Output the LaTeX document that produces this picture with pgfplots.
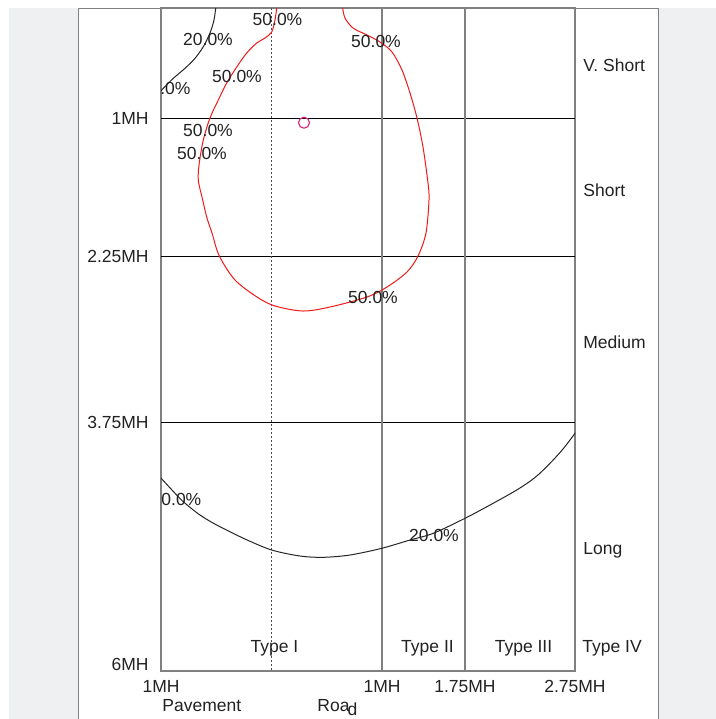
\documentclass[border=0pt]{standalone}
\usepackage{pgfplots}
\pgfplotsset{compat=1.18}
\usepackage{fontspec}
\setmainfont{Liberation Sans}

\definecolor{bggray}{HTML}{EFF0F2}
\definecolor{framegray}{HTML}{808080}
\definecolor{txt}{HTML}{222222}
\definecolor{redline}{HTML}{F01A1A}
\definecolor{dotpink}{HTML}{E0207A}

% one pixel of the reference = 0.5pt
\newcommand{\px}[2]{(#1*0.5pt,-#2*0.5pt)}
\newcommand{\lbl}{\fontsize{8.75pt}{10pt}\selectfont\color{txt}}

\begin{document}
\begin{tikzpicture}
\useasboundingbox (0,0) rectangle (358pt,-359.5pt);
\fill[white] (0,0) rectangle (358pt,-359.5pt);
\fill[bggray] \px{9}{8} rectangle (358pt,-359.5pt);
\fill[white] \px{78}{8} rectangle (329pt,-359.5pt);
\draw[framegray, line width=0.5pt] (39pt,-359.5pt) -- \px{78}{8} -- \px{658}{8} -- (329pt,-359.5pt);

\begin{axis}[
  at={(80.5pt,-335.5pt)}, anchor=south west,
  scale only axis, width=207pt, height=331.5pt,
  xmin=161, xmax=575, ymin=8, ymax=671,
  y dir=reverse,
  axis line style={framegray, line width=0.6pt},
  major tick length=0pt,
  font=\lbl,
  xtick={161,382,465,575},
  xticklabels={1MH,1MH,1.75MH,2.75MH},
  ytick={118,256,422,664},
  yticklabels={1MH,2.25MH,3.75MH,6MH},
  xticklabel style={inner sep=0pt, anchor=north, yshift=-4.5pt},
  yticklabel style={inner sep=0pt, anchor=east, xshift=-6pt},
]
% grid
\draw[black, line width=0.5pt] (axis cs:161,118) -- (axis cs:575,118);
\draw[black, line width=0.5pt] (axis cs:161,256) -- (axis cs:575,256);
\draw[black, line width=0.5pt] (axis cs:161,422) -- (axis cs:575,422);
\draw[framegray, line width=0.6pt] (axis cs:382,8) -- (axis cs:382,671);
\draw[framegray, line width=0.6pt] (axis cs:465,8) -- (axis cs:465,671);
\draw[black!70, line width=0.3pt, dash pattern=on 1.2pt off 0.8pt] (axis cs:271,8) -- (axis cs:271,671);

% 50% contour
\addplot[redline, line width=0.5pt, smooth, tension=0.5] coordinates {
(276.7,8) (275,20) (271.7,32) (265,38) (256.7,43) (246.7,53) (236.7,67)
(226.7,83) (218.3,100) (210,118) (203.3,140) (199.3,163) (198.3,180)
(202.7,200) (207,218) (212,233) (219.3,256) (235,280) (257,297) (275,306)
(303,311) (330,307) (367,297) (387,287) (407,272) (418,256) (426,233)
(429,200) (428,183) (423,147) (417,118) (410,93) (402,70) (392,52)
(380,42) (367,35) (353,28) (345,18) (342.7,8)
};
% 20% contours
\addplot[black!85, line width=0.5pt, smooth, tension=0.5] coordinates {
(215.7,8) (214,20) (210,33) (203.3,46.7) (195,58.3) (185,68.3)
(173.3,78.3) (163.3,88.3) (160,92)
};
\addplot[black!85, line width=0.5pt, smooth, tension=0.5] coordinates {
(160,477) (172,490) (183.3,501.7) (200,515) (216.7,525) (245,539)
(271.7,550) (300,556) (323.3,557.3) (350,555) (381.7,548.3) (410,540)
(433.3,533.3) (465,518.3) (490,505) (516.7,490) (535,477.5) (550,463.3)
(563,449) (575,433.3) (577,430)
};
% observed point
\addplot[only marks, mark=o, mark size=2.75pt, dotpink, line width=0.55pt]
  coordinates {(304,122.7)};

% contour labels
\begin{scope}[every node/.style={inner sep=0pt, anchor=center, font=\lbl}]
\node at (axis cs:277.5,19.5) {50.0\%};
\node at (axis cs:208,39) {20.0\%};
\node at (axis cs:376,41.5) {50.0\%};
\node at (axis cs:237,76) {50.0\%};
\node at (axis cs:165.7,88.5) {20.0\%};
\node at (axis cs:208,130.5) {50.0\%};
\node at (axis cs:202,153.5) {50.0\%};
\node at (axis cs:373,297) {50.0\%};
\node at (axis cs:176.5,499) {20.0\%};
\node at (axis cs:434,535) {20.0\%};
\end{scope}
\begin{scope}[every node/.style={inner sep=0pt, anchor=base, font=\lbl}]
\node at (axis cs:274.5,652.5) {Type I};
\node at (axis cs:427.5,652.5) {Type II};
\node at (axis cs:523.5,652.5) {Type III};
\end{scope}
\end{axis}

\begin{scope}[every node/.style={inner sep=0pt, anchor=base west, font=\lbl}]
\node at \px{582}{652.5} {Type IV};
\node at \px{583}{71.5} {V. Short};
\node at \px{583}{196.5} {Short};
\node at \px{583}{348.5} {Medium};
\node at \px{583}{554} {Long};
\node at \px{162}{711.5} {Pavement};
\node at \px{317}{711} {Roa\kern-1pt\raisebox{-2pt}{d}};
\end{scope}
\end{tikzpicture}
\end{document}
